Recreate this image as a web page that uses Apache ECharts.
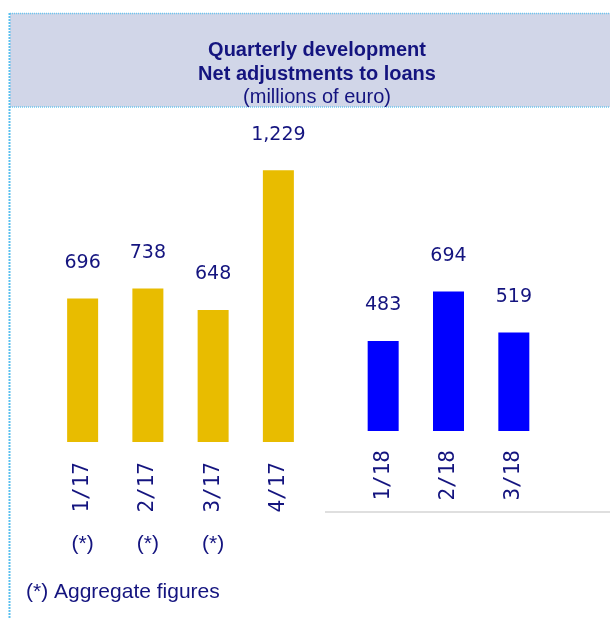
<!DOCTYPE html>
<html>
<head>
<meta charset="utf-8">
<script src="https://cdn.jsdelivr.net/npm/echarts@6/dist/echarts.min.js"></script>
<style>
html,body{margin:0;padding:0;background:#fff;}
#chart{width:610px;height:619px;}
</style>
</head>
<body>
<div id="chart"></div>
<script>
const categories2017 = ['1/17', '2/17', '3/17', '4/17'];
const values2017 = [696, 738, 648, 1229];
const notes2017 = ['(*)', '(*)', '(*)', ''];
const categories2018 = ['1/18', '2/18', '3/18'];
const values2018 = [483, 694, 519];
const titleLines = ['Quarterly development', 'Net adjustments to loans', '(millions of euro)'];
const footnote = '(*) Aggregate figures';

const NAVY = '#14147f';
const chart = echarts.init(document.getElementById('chart'), null, {renderer: 'canvas'});

const valueLabel = {
  show: true, position: 'top', distance: 26,
  color: NAVY, fontFamily: 'DejaVu Sans', fontSize: 19,
  formatter: p => p.value.toLocaleString('en-US')
};
const catLabel = {
  rotate: 90, color: NAVY, fontFamily: 'DejaVu Sans Mono', fontSize: 21
};

chart.setOption({
  animation: false,
  title: [
    {
      left: 312, top: 33, textAlign: 'center',
      text: '{b|' + titleLines[0] + '}\n{b|' + titleLines[1] + '}\n{n|' + titleLines[2] + '}',
      textStyle: {
        rich: {
          b: {fontFamily: 'Liberation Sans', fontWeight: 'bold', fontSize: 20, lineHeight: 24, color: NAVY},
          n: {fontFamily: 'Liberation Sans', fontWeight: 'normal', fontSize: 20, lineHeight: 22, color: NAVY}
        }
      }
    },
    {
      left: 21, top: 577, text: footnote,
      textStyle: {fontFamily: 'Liberation Sans', fontWeight: 'normal', fontSize: 21, color: NAVY}
    }
  ],
  graphic: [
    {type: 'rect', z: -10, shape: {x: 10, y: 13, width: 600, height: 94}, style: {fill: '#d1d6e8'}},
    {type: 'line', z: -5, shape: {x1: 10, y1: 13.5, x2: 610, y2: 13.5}, style: {stroke: '#6cc6ee', lineWidth: 1.5, lineDash: [1, 1]}},
    {type: 'line', z: -5, shape: {x1: 10, y1: 107, x2: 610, y2: 107}, style: {stroke: '#6cc6ee', lineWidth: 1.5, lineDash: [1, 1]}},
    {type: 'line', z: -5, shape: {x1: 9.5, y1: 13, x2: 9.5, y2: 619}, style: {stroke: '#5cc0ee', lineWidth: 2, lineDash: [2, 1]}},
    {type: 'line', z: -5, shape: {x1: 325, y1: 512, x2: 610, y2: 512}, style: {stroke: '#d4d4d4', lineWidth: 1.5}}
  ],
  grid: [
    {left: 50, width: 261, top: 129, height: 313},
    {left: 350.5, width: 196, top: 125.5, height: 305.5}
  ],
  xAxis: [
    {type: 'category', gridIndex: 0, data: categories2017, axisLine: {show: false}, axisTick: {show: false},
     axisLabel: Object.assign({margin: 20}, catLabel)},
    {type: 'category', gridIndex: 0, position: 'bottom', offset: 84, data: notes2017,
     axisLine: {show: false}, axisTick: {show: false},
     axisLabel: {margin: 8, color: NAVY, fontFamily: 'Liberation Sans', fontSize: 21}},
    {type: 'category', gridIndex: 1, data: categories2018, axisLine: {show: false}, axisTick: {show: false},
     axisLabel: Object.assign({margin: 19}, catLabel)}
  ],
  yAxis: [
    {type: 'value', gridIndex: 0, min: 100, max: 1400, show: false, splitLine: {show: false}},
    {type: 'value', gridIndex: 1, min: 100, max: 1400, show: false, splitLine: {show: false}}
  ],
  series: [
    {type: 'bar', xAxisIndex: 0, yAxisIndex: 0, data: values2017, barWidth: 31, clip: true,
     itemStyle: {color: '#e8bc00'}, label: valueLabel},
    {type: 'bar', xAxisIndex: 2, yAxisIndex: 1, data: values2018, barWidth: 31, clip: true,
     itemStyle: {color: '#0000ff'}, label: valueLabel}
  ]
});
</script>
</body>
</html>
